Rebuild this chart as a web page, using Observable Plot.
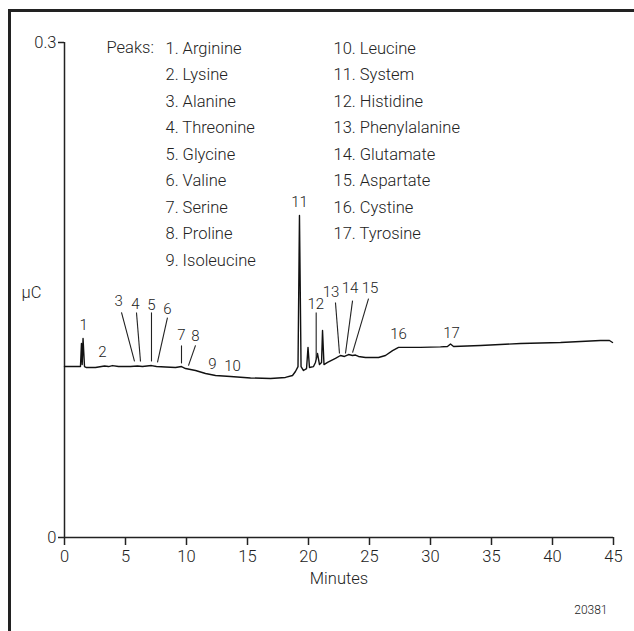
<!DOCTYPE html>
<html>
<head>
<meta charset="utf-8">
<script src="https://cdn.jsdelivr.net/npm/d3@7"></script>
<script src="https://cdn.jsdelivr.net/npm/@observablehq/plot@0.6"></script>
<style>
  html, body { margin: 0; padding: 0; background: #fff; }
  #wrap { position: relative; width: 634px; height: 631px; overflow: hidden; }
  #frame { position: absolute; left: 8px; top: 9px; right: -10px; bottom: -10px;
           border-top: 3px solid #222; border-left: 3px solid #222; pointer-events: none; }
  #wrap svg text { font-stretch: 88%; font-weight: 300; }
</style>
</head>
<body>
<div id="wrap"><div id="frame"></div></div>
<script>
// Chromatogram trace (minutes, µC)
const traceMinutes = [0, 1.15, 1.31, 1.39, 1.45, 1.52, 1.64, 1.80, 2.54, 3.03, 3.28, 3.61, 3.93, 4.43, 5.41, 5.98, 6.39, 7.13, 7.54, 8.28, 9.10, 9.59, 9.92, 10.74, 11.56, 12.38, 13.61, 15.25, 16.89, 18.11, 18.69, 18.93, 19.14, 19.26, 19.39, 19.59, 19.84, 19.96, 20.08, 20.41, 20.57, 20.74, 20.90, 21.07, 21.15, 21.27, 21.56, 22.21, 22.62, 22.95, 23.28, 23.61, 23.85, 24.10, 24.67, 25.74, 26.31, 26.89, 27.38, 29.18, 30.82, 31.39, 31.64, 31.89, 34.10, 37.38, 40.66, 43.93, 44.67, 44.92];
const traceValues  = [0.1036, 0.1036, 0.1036, 0.1176, 0.1048, 0.1206, 0.1036, 0.1030, 0.1030, 0.1036, 0.1039, 0.1036, 0.1042, 0.1036, 0.1036, 0.1039, 0.1036, 0.1042, 0.1036, 0.1033, 0.1030, 0.1036, 0.1024, 0.1012, 0.0994, 0.0982, 0.0976, 0.0967, 0.0964, 0.0970, 0.0982, 0.1006, 0.1036, 0.1952, 0.1036, 0.1012, 0.1024, 0.1152, 0.1030, 0.1036, 0.1061, 0.1115, 0.1048, 0.1061, 0.1255, 0.1048, 0.1061, 0.1085, 0.1103, 0.1097, 0.1109, 0.1103, 0.1106, 0.1097, 0.1091, 0.1091, 0.1103, 0.1133, 0.1152, 0.1152, 0.1155, 0.1158, 0.1173, 0.1158, 0.1164, 0.1176, 0.1182, 0.1194, 0.1194, 0.1182];

// Peak number labels
const peakLabels  = ["1", "2", "3", "4", "5", "6", "7", "8", "9", "10", "11", "12", "13", "14", "15", "16", "17"];
const peakLabelX  = [1.56, 3.11, 4.43, 5.82, 7.13, 8.44, 9.59, 10.74, 12.13, 13.77, 19.26, 20.60, 21.85, 23.40, 25.05, 27.38, 31.72];
const peakLabelY  = [0.1285, 0.1121, 0.1430, 0.1412, 0.1406, 0.1382, 0.1224, 0.1218, 0.1048, 0.1036, 0.2030, 0.1412, 0.1485, 0.1509, 0.1509, 0.1230, 0.1236];

// Leader lines from labels to peaks
const leaderX1 = [4.67, 5.90, 7.13, 8.44, 9.59, 10.74, 20.63, 22.21, 23.61, 24.92];
const leaderY1 = [0.1364, 0.1364, 0.1364, 0.1333, 0.1164, 0.1164, 0.1364, 0.1424, 0.1436, 0.1448];
const leaderX2 = [5.74, 6.23, 7.13, 7.62, 9.59, 10.16, 20.63, 22.54, 23.03, 23.61];
const leaderY2 = [0.1067, 0.1067, 0.1067, 0.1061, 0.1055, 0.1042, 0.1085, 0.1115, 0.1115, 0.1121];

// Peak key
const peakNames = ["Arginine", "Lysine", "Alanine", "Threonine", "Glycine", "Valine", "Serine", "Proline", "Isoleucine",
                   "Leucine", "System", "Histidine", "Phenylalanine", "Glutamate", "Aspartate", "Cystine", "Tyrosine"];

const xTicks = [0, 5, 10, 15, 20, 25, 30, 35, 40, 45];
const yTicks = [0, 0.3];
const yTickLabels = ["0", "0.3"];

const trace = traceMinutes.map((t, i) => ({t, v: traceValues[i]}));
const labels = peakLabels.map((s, i) => ({s, x: peakLabelX[i], y: peakLabelY[i]}));
const leaders = leaderX1.map((x1, i) => ({x1, y1: leaderY1[i], x2: leaderX2[i], y2: leaderY2[i]}));
const keyCol1 = peakNames.slice(0, 9).map((n, i) => `${i + 1}. ${n}`).join("\n");
const keyCol2 = peakNames.slice(9).map((n, i) => `${i + 10}. ${n}`).join("\n");

const FONT = "Roboto, 'DejaVu Sans Condensed', sans-serif";
const INK = "#222";
const FS = 16.5;

const chart = Plot.plot({
  width: 634, height: 631,
  marginLeft: 64, marginRight: 21, marginTop: 42, marginBottom: 94,
  x: {domain: [0, 45]},
  y: {domain: [0, 0.3]},
  style: {fontFamily: FONT, fontSize: FS + "px", color: INK, background: "transparent"},
  marks: [
    Plot.axisX({ticks: xTicks, tickSize: 8, tickPadding: 5, label: null, fontSize: FS, strokeWidth: 1.5, stroke: INK}),
    Plot.axisY({ticks: yTicks, tickFormat: (d) => yTickLabels[yTicks.indexOf(d)], tickSize: 6, tickPadding: 2, label: null, fontSize: FS, strokeWidth: 1.5, stroke: INK}),
    Plot.ruleY([0], {stroke: INK, strokeWidth: 1.5}),
    Plot.ruleX([0], {stroke: INK, strokeWidth: 1.5}),
    Plot.line(trace, {x: "t", y: "v", stroke: "#111", strokeWidth: 1.4, curve: "linear"}),
    Plot.link(leaders, {x1: "x1", y1: "y1", x2: "x2", y2: "y2", stroke: INK, strokeWidth: 1.1}),
    Plot.text(labels, {x: "x", y: "y", text: "s", fontSize: 15, fill: INK}),
    Plot.text(["Peaks:"], {frameAnchor: "top-left", dx: 42, dy: -1.5, textAnchor: "start", lineAnchor: "top", fontSize: FS, fill: INK}),
    Plot.text([keyCol1], {frameAnchor: "top-left", dx: 101, dy: -7.5, textAnchor: "start", lineAnchor: "top", lineHeight: 1.606, fontSize: FS, fill: INK}),
    Plot.text([keyCol2], {frameAnchor: "top-left", dx: 269, dy: -7.5, textAnchor: "start", lineAnchor: "top", lineHeight: 1.606, fontSize: FS, fill: INK}),
    Plot.text(["µC"], {frameAnchor: "left", dx: -33, dy: 3, textAnchor: "middle", fontSize: FS, fill: INK}),
    Plot.text(["Minutes"], {frameAnchor: "bottom", dy: 41, lineAnchor: "middle", fontSize: FS, fill: INK}),
    Plot.text(["20381"], {frameAnchor: "bottom-right", dx: -6, dy: 73, textAnchor: "end", lineAnchor: "middle", fontSize: 12, fill: INK})
  ]
});
chart.style.position = "absolute";
chart.style.left = "0px";
chart.style.top = "0px";
document.getElementById("wrap").prepend(chart);
</script>
</body>
</html>
